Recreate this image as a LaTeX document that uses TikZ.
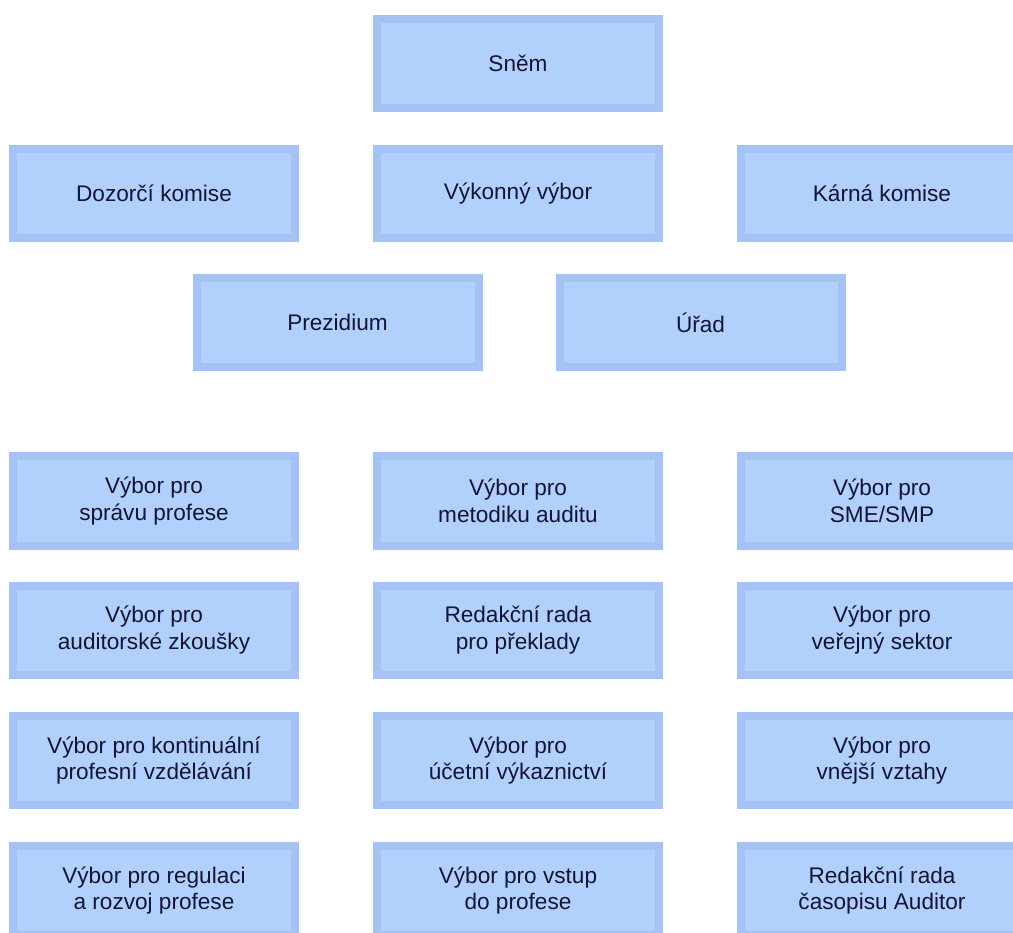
\documentclass[tikz,border=0pt]{standalone}
\usepackage{fontspec}
\setmainfont{Liberation Sans}
\definecolor{boxouter}{RGB}{164,194,244}
\definecolor{boxinner}{RGB}{177,208,251}
\definecolor{boxtext}{RGB}{20,20,55}
\begin{document}
\begin{tikzpicture}[x=1pt,y=-1pt,
  orgbox/.style={draw=boxouter, fill=boxinner, line width=8pt,
    minimum width=282pt, minimum height=89pt, inner sep=0pt, outer sep=0pt,
    align=center, text=boxtext,
    font=\fontsize{22.6pt}{26.5pt}\selectfont}]
\useasboundingbox[fill=white] (0,0) rectangle (1013,933);
% row 1
\node[orgbox] (snem) at (518,63.5) {Sněm};
% row 2
\node[orgbox] (dozorci) at (154,193.5) {Dozorčí komise};
\node[orgbox] (vykonny) at (518,193.5) {Výkonný výbor};
\node[orgbox] (karna) at (882,193.5) {Kárná komise};
% row 3
\node[orgbox] (prezidium) at (337.5,322.5) {Prezidium};
\node[orgbox] (urad) at (700.5,322.5) {Úřad};
% row 4
\node[orgbox] (a1) at (154,501) {Výbor pro\\správu profese};
\node[orgbox] (b1) at (518,501) {Výbor pro\\metodiku auditu};
\node[orgbox] (c1) at (882,501) {Výbor pro\\SME/SMP};
% row 5
\node[orgbox] (a2) at (154,630) {Výbor pro\\auditorské zkoušky};
\node[orgbox] (b2) at (518,630) {Redakční rada\\pro překlady};
\node[orgbox] (c2) at (882,630) {Výbor pro\\veřejný sektor};
% row 6
\node[orgbox] (a3) at (154,760.5) {Výbor pro kontinuální\\profesní vzdělávání};
\node[orgbox] (b3) at (518,760.5) {Výbor pro\\účetní výkaznictví};
\node[orgbox] (c3) at (882,760.5) {Výbor pro\\vnější vztahy};
% row 7
\node[orgbox] (a4) at (154,890.5) {Výbor pro regulaci\\a rozvoj profese};
\node[orgbox] (b4) at (518,890.5) {Výbor pro vstup\\do profese};
\node[orgbox] (c4) at (882,890.5) {Redakční rada\\časopisu Auditor};
\end{tikzpicture}
\end{document}
